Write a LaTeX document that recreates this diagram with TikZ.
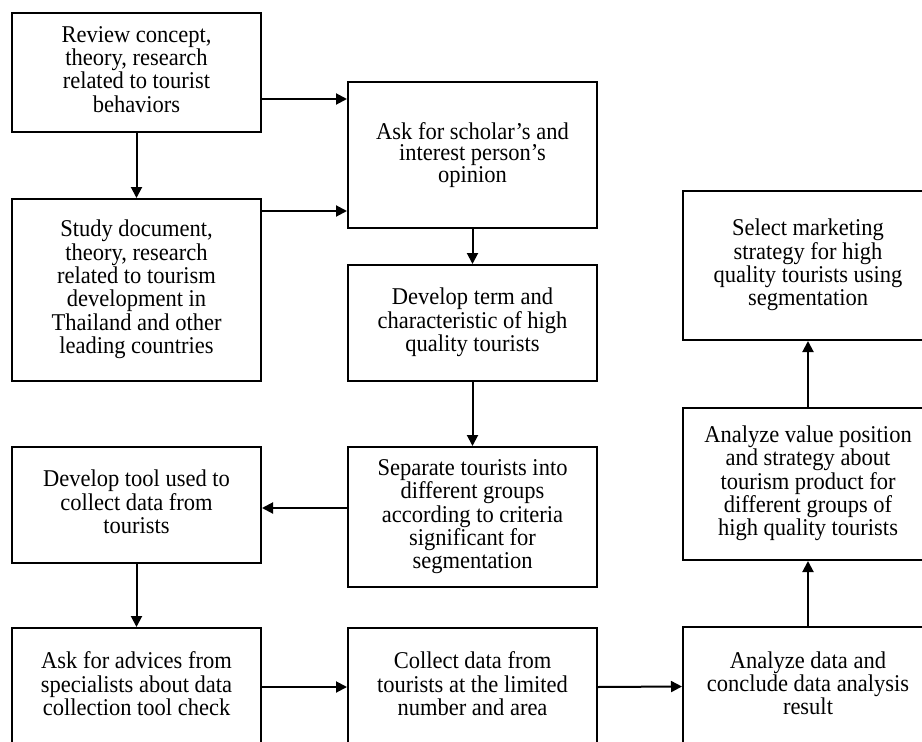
\documentclass[tikz,border=0pt]{standalone}
\usepackage{fontspec}
\usepackage{graphicx}
\setmainfont{Liberation Serif}
\usetikzlibrary{arrows.meta}
% centred lines, stretched slightly upward
\newcommand\tallstack[1]{\scalebox{1}[1.07]{\begin{tabular}{@{}c@{}}#1\end{tabular}}}
\begin{document}
\begin{tikzpicture}[x=1pt,y=-1pt,
  box/.style={draw, line width=2pt, inner sep=0pt, align=center,
    minimum width=249pt, font=\fontsize{22.5}{20.6}\selectfont},
  arr/.style={line width=2pt, -{Triangle[length=11pt,width=11pt]}}]
\useasboundingbox (0,0) rectangle (922,742);
\clip (0,0) rectangle (922,742);
\fill[white] (0,0) rectangle (922,742);

% left column
\node[box, minimum height=119pt] (b1) at (136.5,72.5)
  {\tallstack{Review concept,\\theory, research\\related to tourist\\behaviors}};
\node[box, minimum height=182pt] (b2) at (136.5,290)
  {\tallstack{Study document,\\theory, research\\related to tourism\\development in\\Thailand and other\\leading countries}};
\node[box, minimum height=116pt] (tool) at (136.5,505)
  {\tallstack{Develop tool used to\\collect data from\\tourists}};
\node[box, minimum height=118pt] (adv) at (136.5,687)
  {\tallstack{Ask for advices from\\specialists about data\\collection tool check}};

% middle column
\node[box, minimum height=146pt, font=\fontsize{22.5}{17.3}\selectfont] (ask) at (472.5,155)
  {\tallstack{Ask for scholar’s and\\interest person’s\\opinion}};
\node[box, minimum height=116pt] (term) at (472.5,323)
  {\tallstack{Develop term and\\characteristic of high\\quality tourists}};
\node[box, minimum height=140pt] (sep) at (472.5,517)
  {\tallstack{Separate tourists into\\different groups\\according to criteria\\significant for\\segmentation}};
\node[box, minimum height=118pt] (col) at (472.5,687)
  {\tallstack{Collect data from\\tourists at the limited\\number and area}};

% right column
\node[box, minimum width=250pt, minimum height=149pt] (sel) at (808,265.5)
  {\tallstack{Select marketing\\strategy for high\\quality tourists using\\segmentation}};
\node[box, minimum width=250pt, minimum height=152pt] (val) at (808,484)
  {\tallstack{Analyze value position\\and strategy about\\tourism product for\\different groups of\\high quality tourists}};
\node[box, minimum width=250pt, minimum height=119pt] (ana) at (808,686.5)
  {\tallstack{Analyze data and\\conclude data analysis\\result}};

% connectors
\draw[arr] (b1.south) -- (b2.north);
\draw[arr] (b1.east |- 0,99) -- (ask.west |- 0,99);
\draw[arr] (b2.east |- 0,211) -- (ask.west |- 0,211);
\draw[arr] (ask.south) -- (term.north);
\draw[arr] (term.south) -- (sep.north);
\draw[arr] (sep.west |- 0,508) -- (tool.east |- 0,508);
\draw[arr] (tool.south) -- (adv.north);
\draw[arr] (adv.east) -- (col.west);
\draw[arr] (col.east) -- (ana.west);
\draw[arr] (ana.north) -- (val.south);
\draw[arr] (val.north) -- (sel.south);
\end{tikzpicture}
\end{document}
